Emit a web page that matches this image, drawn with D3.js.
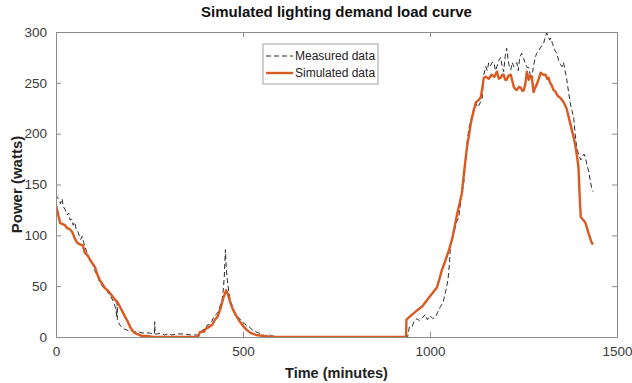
<!DOCTYPE html>
<html><head><meta charset="utf-8">
<script src="https://cdn.jsdelivr.net/npm/d3@7"></script>
<style>
html,body{margin:0;padding:0;background:#fff;}
svg text{font-family:"Liberation Sans",Arial,Helvetica,sans-serif;}
</style></head>
<body><svg id="chart" width="632" height="383"></svg>
<script>
const xTicks = [0, 500, 1000, 1500];
const yTicks = [0, 50, 100, 150, 200, 250, 300];
const seriesNames = ["Measured data", "Simulated data"];

const measuredTime = [0,4,8,12,16,20,25,30,34,38,42,46,50,54,58,62,66,70,74,78,82,86,90,94,99,104,110,116,122,128,134,140,146,152,158,163,163.5,164,170,176,182,188,196,204,210,216,222,230,240,250,258,263,264,265,272,280,290,300,310,325,340,360,380,385,392,400,405,410,416,422,428,434,440,444,447,450,453,455,458,462,466,470,476,482,488,494,500,508,516,522,528,535,542,548,554,560,570,575,585,600,940,945,952,958,965,972,980,987,993,1000,1008,1015,1020,1028,1035,1042,1048,1052,1055,1059,1065,1070,1077,1084,1091,1095,1099,1104,1109,1115,1123,1127,1131,1135,1139,1144,1149,1153,1157,1162,1166,1171,1175,1179,1184,1189,1193,1197,1201,1205,1209,1213,1216,1220,1224,1228,1232,1236,1240,1245,1250,1256,1260,1264,1268,1272,1276,1281,1285,1290,1296,1300,1304,1308,1312,1316,1320,1323,1327,1331,1335,1339,1344,1349,1353,1357,1361,1365,1370,1376,1380,1384,1388,1392,1397,1403,1408,1412,1416,1420,1424,1428,1432,1436];
const measuredPower = [140,137,135,131,136,128,125,120,122,115,116,110,113,106,104,100,96,99,93,88,84,80,76,75,71,65,61,55,51,48,47,43,40,36,30,20,34,17,12,10,8,7,6,6,5,5,5,4,4,4,3,3,15,3,3,4,2,3,2,3,3,2,2,3,7,8,12,12,15,20,22,25,32,36,45,60,86,70,56,45,36,32,26,22,19,17,14,12,10,8,6,5,4,3,2,1,3,1,1,0,0,10,10,16,18,16,19,22,17,21,18,20,24,30,34,45,56,72,92,95,104,112,118,138,154,172,191,205,213,222,230,226,228,231,233,258,266,262,270,267,270,270,262,266,272,275,266,261,276,284,272,265,263,270,266,268,270,262,275,279,274,268,265,265,258,253,265,274,279,281,285,287,289,295,299,296,292,294,289,285,281,279,272,268,266,270,262,255,242,228,222,216,200,187,180,174,178,180,176,168,164,155,147,143];

const simulatedTime = [0,5,11,18,24,30,37,42,45,50,56,64,72,77,85,91,98,104,110,117,124,131,140,149,157,165,172,179,186,192,198,203,210,216,230,243,260,380,385,395,400,410,418,425,432,440,447,455,460,465,472,480,490,500,510,520,535,555,576,936,937,952,965,979,1000,1019,1032,1042,1051,1059,1064,1072,1085,1092,1099,1105,1109,1117,1123,1130,1136,1144,1149,1157,1165,1172,1179,1184,1189,1193,1197,1201,1205,1210,1216,1220,1224,1228,1232,1238,1243,1247,1251,1255,1259,1264,1268,1272,1277,1281,1285,1290,1296,1303,1309,1313,1317,1321,1325,1330,1336,1342,1349,1357,1361,1365,1371,1379,1385,1389,1393,1397,1400,1403,1410,1416,1424,1432,1436];
const simulatedPower = [130,122,112,111,110,107,106,104,102,97,93,91,90,83,80,76,72,69,62,56,52,48,45,41,37,34,29,24,19,15,10,7,4,3,1,1,0,0,5,5,8,10,12,17,20,28,38,46,42,35,28,22,16,11,7,4,2,1,0,0,17,22,26,30,40,49,66,76,86,96,105,120,141,165,187,200,210,223,231,233,236,255,256,254,258,256,261,254,255,258,258,253,253,257,258,252,246,244,243,246,245,242,243,249,261,253,257,256,241,245,248,253,260,258,258,254,255,250,248,243,241,237,235,231,228,225,216,204,195,187,178,167,140,118,115,112,102,93,91];

const W = 632, H = 383;
const m = {left: 56, right: 15, top: 32, bottom: 46};
const svg = d3.select("#chart");
const x = d3.scaleLinear().domain([0, 1500]).range([m.left, W - m.right]);
const y = d3.scaleLinear().domain([0, 300]).range([H - m.bottom, m.top]);
const axisColor = "#8c8c8c", textColor = "#3a3a3a";
const fmt = d3.format("d");

const clipId = "plotclip";
svg.append("clipPath").attr("id", clipId).append("rect")
  .attr("x", x(0)).attr("y", y(300) - 2).attr("width", x(1500) - x(0)).attr("height", y(0) - y(300) + 2);

const line = d3.line().x(d => x(d[0])).y(d => y(d[1]));
const measured = measuredTime.map((t, i) => [t, measuredPower[i]]);
const simulated = simulatedTime.map((t, i) => [t, simulatedPower[i]]);

svg.append("path").datum(measured).attr("d", line)
  .attr("fill", "none").attr("stroke", "#2a2a2a").attr("stroke-width", 1)
  .attr("stroke-dasharray", "5,3").attr("clip-path", `url(#${clipId})`);
svg.append("path").datum(simulated).attr("d", line)
  .attr("fill", "none").attr("stroke", "#D95A22").attr("stroke-width", 2.4)
  .attr("stroke-linejoin", "round").attr("clip-path", `url(#${clipId})`);

const tl = 5;
const gB = svg.append("g").attr("transform", `translate(0,${y(0)})`)
  .call(d3.axisBottom(x).tickValues(xTicks).tickSizeInner(-tl).tickSizeOuter(0).tickPadding(9).tickFormat(fmt));
const gT = svg.append("g").attr("transform", `translate(0,${y(300)})`)
  .call(d3.axisTop(x).tickValues(xTicks).tickSizeInner(-tl).tickSizeOuter(0).tickFormat(""));
const gL = svg.append("g").attr("transform", `translate(${x(0)},0)`)
  .call(d3.axisLeft(y).tickValues(yTicks).tickSizeInner(-tl).tickSizeOuter(0).tickPadding(9).tickFormat(fmt));
const gR = svg.append("g").attr("transform", `translate(${x(1500)},0)`)
  .call(d3.axisRight(y).tickValues(yTicks).tickSizeInner(-tl).tickSizeOuter(0).tickFormat(""));
[gB, gT, gL, gR].forEach(g => {
  g.select(".domain").attr("stroke", axisColor).attr("stroke-width", 1);
  g.selectAll(".tick line").attr("stroke", axisColor);
  g.selectAll(".tick text").attr("fill", textColor).style("font-size", "13.5px");
});

svg.append("text").attr("x", (x(0) + x(1500)) / 2).attr("y", 17).attr("text-anchor", "middle")
  .style("font-size", "15px").style("font-weight", "bold").attr("fill", "#111")
  .text("Simulated lighting demand load curve");
svg.append("text").attr("x", (x(0) + x(1500)) / 2).attr("y", 378).attr("text-anchor", "middle")
  .style("font-size", "14.5px").style("font-weight", "bold").attr("fill", "#222")
  .text("Time (minutes)");
svg.append("text").attr("transform", `translate(22,${(y(0) + y(300)) / 2}) rotate(-90)`)
  .attr("text-anchor", "middle")
  .style("font-size", "15px").style("font-weight", "bold").attr("fill", "#222")
  .text("Power (watts)");

const lg = svg.append("g");
lg.append("rect").attr("x", 263).attr("y", 44).attr("width", 115).attr("height", 40)
  .attr("fill", "#fff").attr("stroke", "#a0a0a0").attr("stroke-width", 1);
const legendStyles = [
  {stroke: "#2a2a2a", width: 1, dash: "5,3"},
  {stroke: "#D95A22", width: 2.4, dash: null}
];
seriesNames.forEach((name, i) => {
  const yy = 56 + i * 17;
  lg.append("line").attr("x1", 266).attr("x2", 293).attr("y1", yy).attr("y2", yy)
    .attr("stroke", legendStyles[i].stroke).attr("stroke-width", legendStyles[i].width)
    .attr("stroke-dasharray", legendStyles[i].dash);
  lg.append("text").attr("x", 295).attr("y", yy + 4).style("font-size", "12px")
    .attr("fill", "#222").text(name);
});
</script></body></html>
